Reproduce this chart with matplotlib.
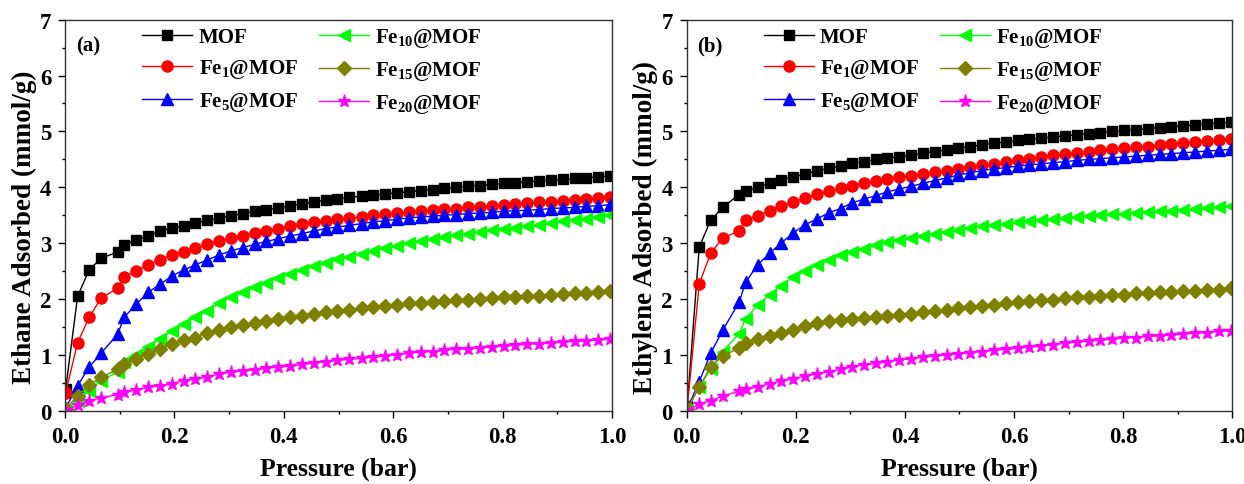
import matplotlib
matplotlib.use("Agg")
import matplotlib.pyplot as plt
from matplotlib.ticker import MultipleLocator

plt.rcParams['font.family'] = ['Liberation Serif', 'DejaVu Serif']
plt.rcParams['font.weight'] = 'bold'
plt.rcParams['mathtext.fontset'] = 'custom'
plt.rcParams['mathtext.rm'] = 'Liberation Serif:bold'
plt.rcParams['mathtext.default'] = 'rm'

# pressure points (bar), shared by all isotherms
pressure = [0.001, 0.023, 0.044, 0.066, 0.096, 0.108, 0.130, 0.152, 0.173, 0.195,
            0.217, 0.238, 0.260, 0.282, 0.303, 0.325, 0.347, 0.368, 0.390, 0.412,
            0.433, 0.455, 0.477, 0.498, 0.520, 0.542, 0.563, 0.585, 0.607, 0.628,
            0.650, 0.672, 0.693, 0.715, 0.737, 0.758, 0.780, 0.802, 0.823, 0.845,
            0.867, 0.888, 0.910, 0.932, 0.953, 0.975, 0.997]

labels = ['MOF', 'Fe$_{1}$@MOF', 'Fe$_{5}$@MOF',
          'Fe$_{10}$@MOF', 'Fe$_{15}$@MOF', 'Fe$_{20}$@MOF']

# (a) ethane uptake, mmol/g
ethane_mof = [0.38, 2.05, 2.52, 2.73, 2.84, 2.97, 3.06, 3.13, 3.21, 3.27,
              3.31, 3.36, 3.41, 3.45, 3.49, 3.53, 3.57, 3.60, 3.63, 3.67,
              3.70, 3.74, 3.77, 3.79, 3.82, 3.84, 3.86, 3.88, 3.90, 3.92,
              3.94, 3.96, 3.98, 4.00, 4.02, 4.03, 4.05, 4.07, 4.08, 4.10,
              4.11, 4.13, 4.14, 4.16, 4.17, 4.19, 4.20]
ethane_fe1 = [0.32, 1.22, 1.67, 2.02, 2.19, 2.40, 2.50, 2.61, 2.70, 2.78,
              2.85, 2.91, 2.98, 3.03, 3.09, 3.13, 3.18, 3.22, 3.26, 3.30,
              3.34, 3.37, 3.40, 3.43, 3.45, 3.47, 3.50, 3.52, 3.54, 3.56,
              3.57, 3.59, 3.61, 3.62, 3.64, 3.65, 3.67, 3.68, 3.70, 3.71,
              3.73, 3.74, 3.76, 3.78, 3.79, 3.81, 3.83]
ethane_fe5 = [0.04, 0.45, 0.78, 1.03, 1.37, 1.67, 1.91, 2.12, 2.26, 2.41,
              2.52, 2.61, 2.70, 2.79, 2.86, 2.92, 2.98, 3.03, 3.08, 3.13,
              3.17, 3.22, 3.26, 3.29, 3.32, 3.35, 3.38, 3.40, 3.43, 3.45,
              3.47, 3.48, 3.50, 3.51, 3.53, 3.54, 3.55, 3.57, 3.58, 3.59,
              3.60, 3.62, 3.63, 3.64, 3.66, 3.67, 3.69]
ethane_fe10 = [0.02, 0.18, 0.36, 0.54, 0.69, 0.87, 1.00, 1.14, 1.29, 1.42,
               1.55, 1.67, 1.79, 1.92, 2.03, 2.12, 2.21, 2.29, 2.37, 2.45,
               2.52, 2.59, 2.65, 2.71, 2.76, 2.81, 2.86, 2.91, 2.95, 3.00,
               3.04, 3.08, 3.11, 3.14, 3.17, 3.20, 3.23, 3.26, 3.28, 3.31,
               3.33, 3.36, 3.39, 3.41, 3.44, 3.47, 3.50]
ethane_fe15 = [0.03, 0.27, 0.46, 0.60, 0.74, 0.84, 0.93, 1.02, 1.10, 1.19,
               1.27, 1.31, 1.40, 1.44, 1.49, 1.53, 1.57, 1.61, 1.64, 1.67,
               1.70, 1.74, 1.77, 1.79, 1.81, 1.83, 1.86, 1.88, 1.90, 1.92,
               1.93, 1.95, 1.96, 1.98, 1.99, 2.00, 2.02, 2.03, 2.04, 2.05,
               2.06, 2.08, 2.09, 2.10, 2.11, 2.13, 2.14]
ethane_fe20 = [0.00, 0.10, 0.17, 0.23, 0.29, 0.33, 0.37, 0.42, 0.45, 0.48,
               0.54, 0.57, 0.60, 0.66, 0.69, 0.71, 0.73, 0.76, 0.78, 0.80,
               0.83, 0.85, 0.88, 0.90, 0.92, 0.94, 0.96, 0.98, 1.00, 1.03,
               1.05, 1.06, 1.08, 1.10, 1.11, 1.13, 1.14, 1.16, 1.17, 1.19,
               1.20, 1.21, 1.23, 1.24, 1.25, 1.27, 1.28]

# (b) ethylene uptake, mmol/g
ethylene_mof = [0.08, 2.93, 3.41, 3.64, 3.87, 3.93, 4.00, 4.07, 4.13, 4.19,
                4.23, 4.29, 4.34, 4.38, 4.43, 4.46, 4.50, 4.52, 4.55, 4.58,
                4.61, 4.64, 4.67, 4.70, 4.73, 4.76, 4.79, 4.81, 4.84, 4.86,
                4.88, 4.90, 4.92, 4.94, 4.96, 4.98, 5.00, 5.02, 5.03, 5.05,
                5.07, 5.08, 5.10, 5.12, 5.13, 5.15, 5.16]
ethylene_fe1 = [0.06, 2.27, 2.82, 3.09, 3.22, 3.42, 3.49, 3.58, 3.67, 3.74,
                3.80, 3.88, 3.93, 3.98, 4.03, 4.07, 4.11, 4.15, 4.18, 4.21,
                4.24, 4.27, 4.30, 4.33, 4.36, 4.39, 4.42, 4.45, 4.48, 4.51,
                4.54, 4.57, 4.60, 4.62, 4.64, 4.66, 4.68, 4.70, 4.72, 4.73,
                4.75, 4.77, 4.79, 4.81, 4.83, 4.84, 4.86]
ethylene_fe5 = [0.04, 0.52, 1.03, 1.44, 1.94, 2.30, 2.61, 2.82, 3.00, 3.18,
                3.33, 3.43, 3.54, 3.62, 3.72, 3.79, 3.85, 3.92, 3.97, 4.02,
                4.07, 4.12, 4.17, 4.22, 4.26, 4.30, 4.33, 4.35, 4.38, 4.40,
                4.42, 4.44, 4.46, 4.48, 4.50, 4.51, 4.53, 4.54, 4.56, 4.57,
                4.59, 4.60, 4.62, 4.63, 4.65, 4.66, 4.68]
ethylene_fe10 = [0.02, 0.43, 0.75, 1.06, 1.38, 1.65, 1.89, 2.08, 2.24, 2.39,
                 2.51, 2.60, 2.69, 2.78, 2.84, 2.90, 2.96, 3.02, 3.05, 3.09,
                 3.12, 3.16, 3.20, 3.24, 3.27, 3.30, 3.33, 3.35, 3.37, 3.39,
                 3.41, 3.43, 3.45, 3.47, 3.49, 3.50, 3.52, 3.53, 3.54, 3.56,
                 3.57, 3.58, 3.60, 3.61, 3.63, 3.64, 3.66]
ethylene_fe15 = [0.03, 0.42, 0.79, 0.98, 1.12, 1.22, 1.28, 1.33, 1.39, 1.45,
                 1.51, 1.57, 1.60, 1.63, 1.65, 1.66, 1.68, 1.70, 1.72, 1.73,
                 1.76, 1.78, 1.80, 1.83, 1.85, 1.88, 1.90, 1.92, 1.94, 1.96,
                 1.98, 1.99, 2.01, 2.03, 2.04, 2.06, 2.07, 2.08, 2.10, 2.11,
                 2.12, 2.13, 2.14, 2.15, 2.16, 2.17, 2.19]
ethylene_fe20 = [0.00, 0.12, 0.18, 0.26, 0.35, 0.38, 0.43, 0.48, 0.53, 0.57,
                 0.62, 0.66, 0.70, 0.74, 0.79, 0.82, 0.85, 0.88, 0.91, 0.93,
                 0.96, 0.98, 1.00, 1.02, 1.04, 1.06, 1.08, 1.10, 1.12, 1.14,
                 1.16, 1.18, 1.21, 1.23, 1.25, 1.27, 1.28, 1.30, 1.31, 1.33,
                 1.34, 1.36, 1.37, 1.39, 1.40, 1.42, 1.43]

colors = ['#000000', '#FF0000', '#0000FF', '#00FF00', '#808000', '#FF00FF']
markers = ['s', 'o', '^', '<', 'D', '*']
msizes = [7, 8, 8, 8, 7, 9.5]

panels = [
    ('(a)', 'Ethane Adsorbed (mmol/g)',
     [ethane_mof, ethane_fe1, ethane_fe5, ethane_fe10, ethane_fe15, ethane_fe20]),
    ('(b)', 'Ethylene Adsorbed (mmol/g)',
     [ethylene_mof, ethylene_fe1, ethylene_fe5, ethylene_fe10, ethylene_fe15, ethylene_fe20]),
]

fig = plt.figure(figsize=(12.44, 4.85), dpi=100)
ax_rects = [[0.0523, 0.1511, 0.4397, 0.8062], [0.5520, 0.1511, 0.4385, 0.8062]]

for rect, (tag, ylab, series) in zip(ax_rects, panels):
    ax = fig.add_axes(rect)
    for ys, lab, c, m, ms in zip(series, labels, colors, markers, msizes):
        ax.plot(pressure, ys, color=c, marker=m, markersize=ms, linewidth=1.0,
                markeredgecolor=c, label=lab)
    ax.set_xlim(0, 1.0)
    ax.set_ylim(0, 7)
    ax.xaxis.set_major_locator(MultipleLocator(0.2))
    ax.xaxis.set_minor_locator(MultipleLocator(0.1))
    ax.yaxis.set_major_locator(MultipleLocator(1))
    ax.yaxis.set_minor_locator(MultipleLocator(0.5))
    ax.tick_params(which='major', direction='out', length=5, width=1.0,
                   labelsize=16.5, pad=6)
    ax.tick_params(which='minor', direction='out', length=2.5, width=1.0)
    ax.tick_params(axis='y', which='major', pad=5)
    for sp in ax.spines.values():
        sp.set_linewidth(1.0)
        sp.set_color('#333333')
    ax.set_xlabel('Pressure (bar)', fontsize=18.5, fontweight='bold', labelpad=7)
    ax.set_ylabel(ylab, fontsize=19.5, fontweight='bold')
    ax.yaxis.set_label_coords(-0.052, 0.472)
    ax.text(0.02, 0.935, tag, transform=ax.transAxes, fontsize=15,
            fontweight='bold', va='center', ha='left')
    ax.legend(ncol=2, loc='upper left', bbox_to_anchor=(0.13, 1.0),
              frameon=False, handlelength=2.4, handletextpad=0.3,
              columnspacing=1.0, labelspacing=0.48, borderaxespad=0.0,
              borderpad=0.3, prop={'weight': 'bold', 'size': 15})

fig.savefig('out.png', dpi=100)
